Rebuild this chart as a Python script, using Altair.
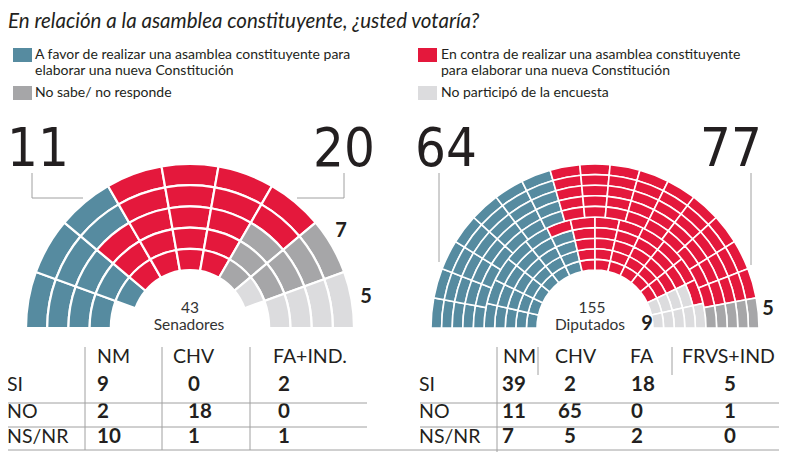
import altair as alt
import pandas as pd
import math

# ---------------- data ----------------
categories = ["A favor", "En contra", "No sabe/ no responde", "No participó"]
cat_colors = ["#568ba0", "#e4183c", "#a6a6a8", "#dcdcde"]

senado_counts = [11, 20, 7, 5]        # a favor, en contra, NS/NR, no participó
diputados_counts = [64, 77, 5, 9]

table_rows = ["SI", "NO", "NS/NR"]
senado_parties = ["NM", "CHV", "FA+IND."]
senado_values = {"NM": [9, 2, 10], "CHV": [0, 18, 1], "FA+IND.": [2, 0, 1]}
dip_parties = ["NM", "CHV", "FA", "FRVS+IND"]
dip_values = {"NM": [39, 11, 7], "CHV": [2, 65, 5], "FA": [18, 0, 2], "FRVS+IND": [5, 1, 0]}

# ---------------- layout helpers ----------------
M = 8  # page margin


def P(v):
    return v - M


FONT = "Lato"
TXT = "#231f20"


def cell_rows(cells, labels, n_wedges, ring0, n_rings_total):
    rows = []
    for (w, r), ci in zip(cells, labels):
        rows.append({
            "a0": 180.0 * w / n_wedges, "a1": 180.0 * (w + 1) / n_wedges,
            "r0": (ring0 + r) / n_rings_total, "r1": (ring0 + r + 1) / n_rings_total,
            "cat": categories[ci],
        })
    return rows


def expand(counts, order):
    labels = []
    for ci in order:
        labels += [ci] * counts[ci]
    return labels


# Senate: 9 wedges x 5 rings, innermost ring missing at both ends
sen_cells = [(w, r) for w in range(9) for r in range(5) if not (r == 0 and w in (0, 8))]
sen_cells.sort(key=lambda c: (c[0], -c[1]))
sen_df = pd.DataFrame(cell_rows(sen_cells, expand(senado_counts, [0, 1, 2, 3]), 9, 0, 5))

# Chamber: inner tier 5 rings x 14 wedges, outer tier 5 rings x 17 wedges
OUT_W, IN_W = 17, 14
out_blue = round(diputados_counts[0] / sum(diputados_counts) * OUT_W)
out_grey = diputados_counts[2] // 5
out_counts = [out_blue * 5, (OUT_W - out_blue - out_grey) * 5, out_grey * 5, 0]
in_counts = [diputados_counts[i] - out_counts[i] for i in range(4)]

out_cells = [(w, r) for w in range(OUT_W) for r in range(5)]
out_cells.sort(key=lambda c: (c[0], -c[1]))
in_cells = [(w, r) for w in range(IN_W) for r in range(5)]
in_cells.sort(key=lambda c: (c[0], c[1] if c[0] < IN_W // 2 else -c[1]))
dip_df = pd.DataFrame(
    cell_rows(in_cells, expand(in_counts, [0, 1, 3, 2]), IN_W, 0, 10)
    + cell_rows(out_cells, expand(out_counts, [0, 1, 3, 2]), OUT_W, 5, 10)
)

theta_scale = alt.Scale(domain=[0, 180], range=[-math.pi / 2, math.pi / 2])
radius_scale = alt.Scale(type="linear", domain=[0, 1], range=[58, 164], zero=False)
color_scale = alt.Scale(domain=categories, range=cat_colors)


def hemicycle(df, cx, cy, sw):
    return alt.Chart(df).mark_arc(stroke="white", strokeWidth=sw).encode(
        theta=alt.Theta("a0:Q", scale=theta_scale),
        theta2="a1:Q",
        radius=alt.Radius("r1:Q", scale=radius_scale),
        radius2="r0:Q",
        color=alt.Color("cat:N", scale=color_scale, legend=None),
        x=alt.value(P(cx)),
        y=alt.value(P(cy)),
    )


def txt(s, x, y, size=14, weight="normal", align="left", color=TXT, style="normal", font=FONT, baseline="middle"):
    return alt.Chart(pd.DataFrame({"t": [s]})).mark_text(
        fontSize=size, fontWeight=weight, align=align, color=color, fontStyle=style,
        font=font, baseline=baseline,
    ).encode(text="t:N", x=alt.value(P(x)), y=alt.value(P(y)))


def rule(x1, y1, x2, y2, color="#a0a0a0", w=1):
    return alt.Chart(pd.DataFrame({"d": [0]})).mark_rule(color=color, strokeWidth=w).encode(
        x=alt.value(P(x1)), x2=alt.value(P(x2)), y=alt.value(P(y1)), y2=alt.value(P(y2))
    )


def square(x1, y1, x2, y2, color):
    return alt.Chart(pd.DataFrame({"d": [0]})).mark_rect(color=color).encode(
        x=alt.value(P(x1)), x2=alt.value(P(x2)), y=alt.value(P(y1)), y2=alt.value(P(y2))
    )


layers = []
# title
layers.append(txt("En relación a la asamblea constituyente, ¿usted votaría?", 8, 28, size=20.5,
                  style="italic", baseline="alphabetic"))
# legends
layers.append(square(13, 48, 32, 62, cat_colors[0]))
layers.append(txt("A favor de realizar una asamblea constituyente para", 35, 55))
layers.append(txt("elaborar una nueva Constitución", 35, 71))
layers.append(square(13, 86, 32, 100, cat_colors[2]))
layers.append(txt("No sabe/ no responde", 35, 93))
layers.append(square(418, 48, 437, 62, cat_colors[1]))
layers.append(txt("En contra de realizar una asamblea constituyente", 441, 55))
layers.append(txt("para elaborar una nueva Constitución", 441, 71))
layers.append(square(418, 86, 437, 100, cat_colors[3]))
layers.append(txt("No participó de la encuesta", 441, 93))

# hemicycles
layers.append(hemicycle(sen_df, 190, 328, 2.2))
layers.append(hemicycle(dip_df, 595, 328, 1.6))

# big numbers
BIG = "DejaVu Sans Condensed, DejaVu Sans, sans-serif"
for s, x in [("11", 38), ("20", 344), ("64", 446), ("77", 731)]:
    layers.append(txt(s, x, 166, size=54, align="center", font=BIG, baseline="alphabetic"))

# connectors
layers += [rule(32, 173, 32, 198), rule(32, 198, 83, 198),
           rule(344, 173, 344, 198), rule(297, 198, 344, 198),
           rule(439, 173, 439, 262), rule(751, 173, 751, 265)]

# hemicycle labels
layers.append(txt("7", 341, 231, size=20, weight="bold", align="center"))
layers.append(txt("5", 366, 297, size=20, weight="bold", align="center"))
layers.append(txt("43", 190, 308, size=15.5, align="center", color="#333"))
layers.append(txt("Senadores", 189, 325, size=15.5, align="center", color="#333"))
layers.append(txt("155", 592, 308, size=15.5, align="center", color="#333"))
layers.append(txt("Diputados", 590, 325, size=15.5, align="center", color="#333"))
layers.append(txt("9", 647, 324, size=20, weight="bold", align="center"))
layers.append(txt("5", 768, 309, size=20, weight="bold", align="center"))

# tables
row_y = {"SI": 385, "NO": 412, "NS/NR": 437}
HS, VS = 19.5, 20.5
for s, x in zip(senado_parties, [97, 173, 273]):
    layers.append(txt(s, x, 357, size=HS))
for p, x in zip(senado_parties, [97, 188, 278]):
    for r, v in zip(table_rows, senado_values[p]):
        layers.append(txt(str(v), x, row_y[r], size=VS, weight="bold"))
for r in table_rows:
    layers.append(txt(r, 7, row_y[r], size=HS))
    layers.append(txt(r, 419, row_y[r], size=HS))
for s, x in zip(dip_parties, [503, 555, 630, 682]):
    layers.append(txt(s, x, 357, size=HS))
for p, x, al in zip(dip_parties, [502, 570, 631, 730], ["left", "center", "left", "center"]):
    for r, v in zip(table_rows, dip_values[p]):
        layers.append(txt(str(v), x, row_y[r], size=VS, weight="bold", align=al))

layers += [rule(85, 347, 85, 450), rule(162, 347, 162, 450), rule(250, 347, 250, 450),
           rule(7, 403, 367, 403), rule(7, 427, 367, 427), rule(7, 450, 780, 450),
           rule(497, 347, 497, 455), rule(538, 347, 538, 375), rule(672, 347, 672, 375),
           rule(420, 403, 780, 403), rule(420, 427, 780, 427)]

chart = alt.layer(*layers).properties(
    width=771, height=444, padding=0,
    autosize=alt.AutoSizeParams(type="none"),
).configure_view(stroke=None)

chart.save("out.html", embed_options={"renderer": "svg", "actions": False})
